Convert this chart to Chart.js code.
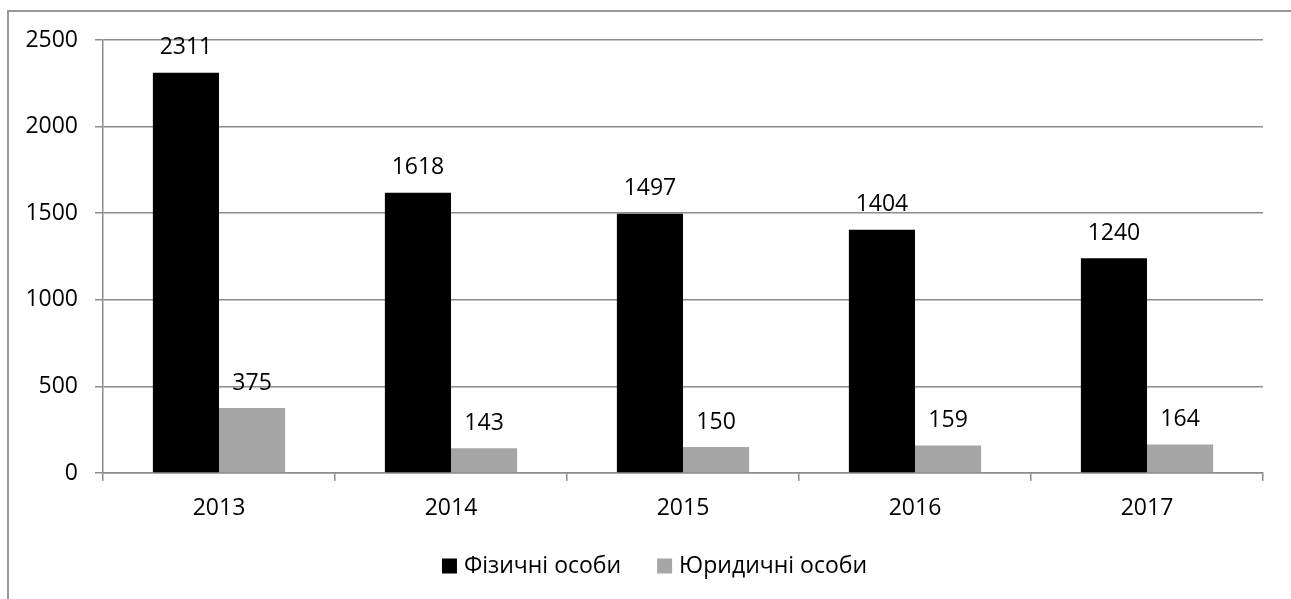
<!DOCTYPE html>
<html>
<head>
<meta charset="utf-8">
<script src="https://cdn.jsdelivr.net/npm/chart.js@4.4.0/dist/chart.umd.min.js"></script>
<style>
  html, body { margin: 0; padding: 0; background: #fff; overflow: hidden; }
  #frame { position: absolute; left: 7px; top: 10px; width: 1400px; height: 700px;
           border-left: 2px solid #999; border-top: 2px solid #999; }
  #wrap { position: absolute; left: 0; top: 0; width: 1291px; height: 599px; }
</style>
</head>
<body>
<div id="frame"></div>
<div id="wrap"><canvas id="mycanvas"></canvas></div>
<script>
var years = ["2013", "2014", "2015", "2016", "2017"];
var physical = [2311, 1618, 1497, 1404, 1240];
var legal = [375, 143, 150, 159, 164];
var seriesNames = ["Фізичні особи", "Юридичні особи"];

var FONT = "'Open Sans', sans-serif";
var FSIZE = 23;
var gridColor = "#8c8c8c";

// value labels above each bar
var valueLabels = {
  id: "valueLabels",
  afterDatasetsDraw: function(chart) {
    var ctx = chart.ctx;
    ctx.save();
    ctx.fillStyle = "#000";
    ctx.font = FSIZE + "px " + FONT;
    ctx.textAlign = "center";
    ctx.textBaseline = "middle";
    chart.data.datasets.forEach(function(ds, i) {
      chart.getDatasetMeta(i).data.forEach(function(bar, j) {
        ctx.fillText(ds.data[j], bar.x, bar.y - 25);
      });
    });
    ctx.restore();
  }
};

// legend at the bottom, drawn by hand to get the spacing right
var bottomLegend = {
  id: "bottomLegend",
  afterDraw: function(chart) {
    var ctx = chart.ctx;
    ctx.save();
    ctx.font = FSIZE + "px " + FONT;
    ctx.textBaseline = "middle";
    var box = 15, gap = 7, between = 36;
    var items = chart.data.datasets;
    var total = 0;
    items.forEach(function(ds, i) {
      total += box + gap + ctx.measureText(ds.label).width;
      if (i < items.length - 1) total += between;
    });
    var x = chart.width / 2 + 9 - total / 2;
    var y = 566;
    items.forEach(function(ds) {
      ctx.fillStyle = ds.backgroundColor;
      ctx.fillRect(x, y - box / 2, box, box);
      x += box + gap;
      ctx.fillStyle = "#000";
      ctx.fillText(ds.label, x, y);
      x += ctx.measureText(ds.label).width + between;
    });
    ctx.restore();
  }
};

var chartdata = {
  labels: years,
  datasets: [
    { label: seriesNames[0], data: physical, backgroundColor: "#000000",
      barPercentage: 1, categoryPercentage: 0.57 },
    { label: seriesNames[1], data: legal, backgroundColor: "#a6a6a6",
      barPercentage: 1, categoryPercentage: 0.57 }
  ]
};

new Chart(document.getElementById("mycanvas"), {
  type: "bar",
  data: chartdata,
  plugins: [valueLabels, bottomLegend],
  options: {
    responsive: true,
    maintainAspectRatio: false,
    animation: false,
    layout: { padding: { top: 40, right: 28, bottom: 76, left: 0 } },
    plugins: {
      tooltip: { enabled: false },
      legend: { display: false }
    },
    scales: {
      x: {
        afterFit: function(scale) { scale.height = 50; },
        grid: { drawOnChartArea: false, drawTicks: true, tickLength: 8, color: gridColor, lineWidth: 1.5, offset: true },
        border: { color: gridColor, width: 1.5 },
        ticks: { color: "#000", font: { family: FONT, size: FSIZE }, padding: 14 }
      },
      y: {
        min: 0, max: 2500,
        afterFit: function(scale) { scale.width = 103; },
        grid: { color: gridColor, lineWidth: 1.5, drawTicks: true, tickLength: 8 },
        border: { color: gridColor, width: 1.5 },
        ticks: {
          stepSize: 500, color: "#000", font: { family: FONT, size: FSIZE }, padding: 17,
          callback: function(v) { return String(v); }
        }
      }
    }
  }
});
</script>
</body>
</html>
